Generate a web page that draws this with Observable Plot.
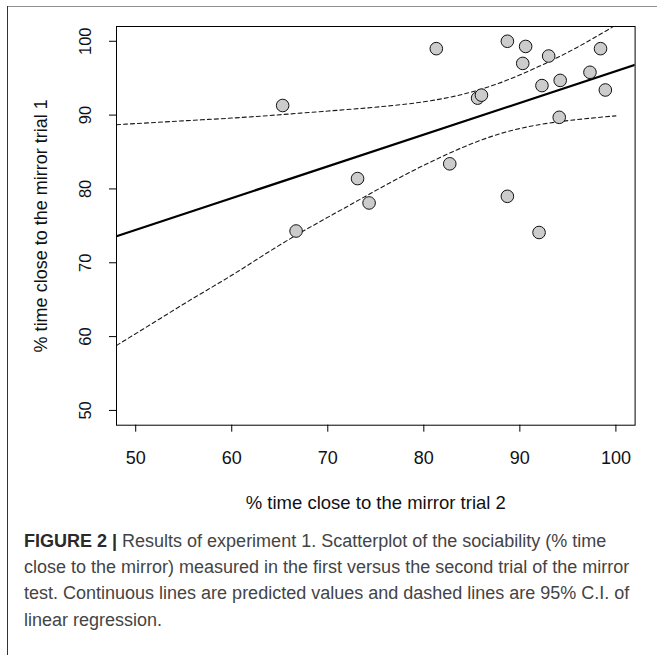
<!DOCTYPE html>
<html>
<head>
<meta charset="utf-8">
<script src="https://cdn.jsdelivr.net/npm/d3@7"></script>
<script src="https://cdn.jsdelivr.net/npm/@observablehq/plot@0.6"></script>
<style>
  html, body { margin: 0; padding: 0; background: #fff; }
  #wrap { position: relative; width: 657px; height: 655px; overflow: hidden; background: #fff; }
  #chart { position: absolute; left: 0; top: 0; }
  .rule-top { position: absolute; left: 7px; top: 6px; width: 650px; height: 0; border-top: 1.5px solid #8f8f8f; }
  .rule-left { position: absolute; left: 6.5px; top: 6px; width: 0; height: 649px; border-left: 1.6px solid #333; }
  #cap { position: absolute; left: 24px; top: 527.7px; font-family: "Liberation Sans", Arial, sans-serif;
         font-size: 18px; color: #444; white-space: nowrap; }
  #cap .ln { height: 26.3px; line-height: 26.3px; }
  #cap b { color: #2a2a2a; }
</style>
</head>
<body>
<div id="wrap">
  <div id="chart"></div>
  <div class="rule-top"></div>
  <div class="rule-left"></div>
  <div id="cap">
    <div class="ln"><b>FIGURE 2 |</b> Results of experiment 1. Scatterplot of the sociability (% time</div>
    <div class="ln">close to the mirror) measured in the first versus the second trial of the mirror</div>
    <div class="ln">test. Continuous lines are predicted values and dashed lines are 95% C.I. of</div>
    <div class="ln">linear regression.</div>
  </div>
</div>
<script>
// Tick labels
const xTicks = [50, 60, 70, 80, 90, 100];
const yTicks = [50, 60, 70, 80, 90, 100];

// Observations: % time close to mirror, trial 2 (x) and trial 1 (y)
const trial2 = [65.3, 81.3, 88.7, 90.6, 90.3, 93.0, 98.4, 85.6, 86.0, 92.3, 94.2, 97.3, 98.9, 94.1, 82.7, 73.1, 74.3, 88.7, 66.7, 92.0];
const trial1 = [91.3, 99.0, 100.0, 99.3, 97.0, 98.0, 99.0, 92.3, 92.7, 94.0, 94.7, 95.8, 93.4, 89.7, 83.4, 81.4, 78.1, 79.0, 74.3, 74.1];

// Regression line (predicted values) read at plot edges
const fitX = [48, 102];
const fitY = [73.6, 96.8];

// 95% confidence band of the regression
const ciX     = [48, 52, 56, 60, 64, 68, 72, 76, 80, 84, 88, 92, 96, 100];
const ciUpper = [88.7, 89.0, 89.3, 89.6, 89.95, 90.35, 90.75, 91.2, 91.8, 92.8, 94.4, 96.6, 99.2, 102.2];
const ciLower = [58.8, 62.0, 65.2, 68.3, 71.6, 74.7, 77.6, 80.5, 83.2, 85.6, 87.5, 88.7, 89.4, 89.9];

const xTitle = "% time close to the mirror trial 2";
const yTitle = "% time close to the mirror trial 1";

const points = trial2.map((x, i) => ({x, y: trial1[i]}));
const fit = fitX.map((x, i) => ({x, y: fitY[i]}));
const ci = ciX.map((x, i) => ({x, upper: ciUpper[i], lower: ciLower[i]}));

const chart = Plot.plot({
  width: 657,
  height: 520,
  marginLeft: 116,
  marginRight: 22.4,
  marginTop: 26,
  marginBottom: 95.3,
  x: {domain: [48, 102], axis: null},
  y: {domain: [48, 102], axis: null},
  style: {fontFamily: "'Liberation Sans', Arial, sans-serif", background: "transparent", color: "#111"},
  marks: [
    Plot.line(ci, {x: "x", y: "upper", stroke: "#1a1a1a", strokeWidth: 1.1, strokeDasharray: "4,3", curve: "natural", clip: true}),
    Plot.line(ci, {x: "x", y: "lower", stroke: "#1a1a1a", strokeWidth: 1.1, strokeDasharray: "4,3", curve: "natural", clip: true}),
    Plot.line(fit, {x: "x", y: "y", stroke: "#000", strokeWidth: 2.2, clip: true}),
    Plot.dot(points, {x: "x", y: "y", r: 6.3, fill: "#cccccc", stroke: "#111", strokeWidth: 1}),
    Plot.frame({stroke: "#000", strokeWidth: 1}),
    Plot.axisX(xTicks, {anchor: "bottom", tickSize: 7, tickFormat: () => "", label: null, stroke: "#000"}),
    Plot.axisY(yTicks, {anchor: "left", tickSize: 7, tickFormat: () => "", label: null, stroke: "#000"}),
    Plot.text(xTicks, {x: d => d, text: d => String(d), frameAnchor: "bottom", dy: 33, fontSize: 18, lineAnchor: "middle", fill: "#111"}),
    Plot.text(yTicks, {y: d => d, text: d => String(d), frameAnchor: "left", dx: -31, rotate: -90, fontSize: 16.5, lineAnchor: "middle", textAnchor: "middle", fill: "#111"}),
    Plot.text([xTitle], {frameAnchor: "bottom", dy: 78, fontSize: 18.5, lineAnchor: "middle", textAnchor: "middle", fill: "#111"}),
    Plot.text([yTitle], {frameAnchor: "left", dx: -75, rotate: -90, fontSize: 18, lineAnchor: "middle", textAnchor: "middle", fill: "#111"})
  ]
});
document.getElementById("chart").appendChild(chart);
</script>
</body>
</html>
